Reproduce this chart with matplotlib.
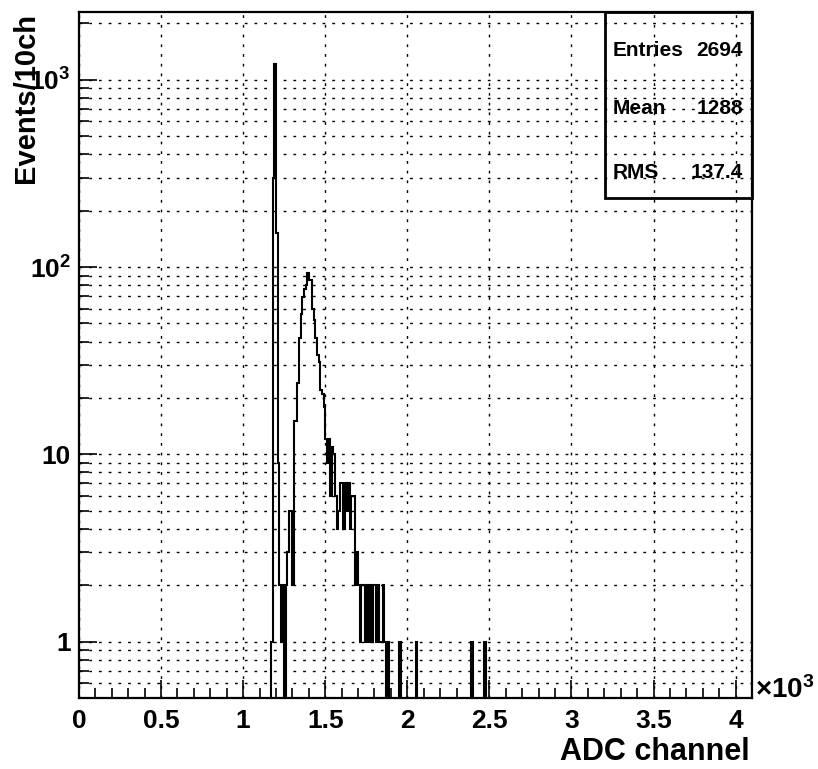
import numpy as np
import matplotlib
matplotlib.use("Agg")
import matplotlib.pyplot as plt
from matplotlib.ticker import FixedLocator, FixedFormatter, NullFormatter
from matplotlib.patches import Rectangle

plt.rcParams['font.family'] = ['Liberation Sans', 'DejaVu Sans']
plt.rcParams['font.weight'] = 'bold'
plt.rcParams['mathtext.fontset'] = 'custom'
plt.rcParams['mathtext.rm'] = 'Liberation Sans:bold'
plt.rcParams['mathtext.bf'] = 'Liberation Sans:bold'
plt.rcParams['mathtext.default'] = 'rm'

# bins with content (lower edge of 10-channel bin, counts); others are empty
channels = [1170, 1180, 1190, 1200, 1210, 1220, 1230, 1240, 1260, 1270,
            1280, 1290, 1300, 1310, 1320, 1330, 1340, 1350, 1360, 1370,
            1380, 1390, 1400, 1410, 1420, 1430, 1440, 1450, 1460, 1470,
            1480, 1490, 1500, 1510, 1520, 1530, 1540, 1550, 1560, 1570,
            1580, 1590, 1600, 1610, 1620, 1630, 1640, 1650, 1660, 1670,
            1680, 1690, 1700, 1710, 1720, 1730, 1740, 1750, 1760, 1770,
            1780, 1790, 1800, 1810, 1820, 1830, 1840, 1850, 1860, 1880,
            1950, 2050, 2390, 2470]
counts = [1, 298, 1210, 152, 9, 2, 1, 2, 2, 3,
          5, 5, 2, 15, 15, 24, 42, 56, 69, 76,
          80, 93, 85, 85, 60, 52, 42, 34, 31, 22,
          21, 18, 12, 9, 12, 6, 11, 10, 6, 4,
          5, 7, 7, 4, 7, 5, 7, 4, 6, 6,
          2, 3, 2, 1, 2, 2, 1, 2, 1, 2,
          1, 2, 2, 1, 2, 1, 1, 2, 1, 1,
          1, 1, 1, 1]

n_entries = "2694"
mean_txt = "1288"
rms_txt = "137.4"

x_ticks = [0, 500, 1000, 1500, 2000, 2500, 3000, 3500, 4000]
x_labels = ["0", "0.5", "1", "1.5", "2", "2.5", "3", "3.5", "4"]
y_ticks = [1, 10, 100, 1000]
y_labels = ["1", "10", r"$10^{2}$", r"$10^{3}$"]

edges = np.arange(0, 4101, 10)
h = np.zeros(len(edges) - 1)
h[np.array(channels) // 10] = counts

W, H = 818, 769
fig = plt.figure(figsize=(W / 100, H / 100), dpi=100)
ax = fig.add_axes([79 / W, 1 - 698 / H, (752 - 79) / W, (698 - 12) / H])

ax.set_yscale('log')
ax.stairs(h, edges, color='k', lw=1.5)

ax.set_xlim(0, 4100)
ax.set_ylim(0.5, 2300)

ax.set_xticks(x_ticks)
ax.set_xticklabels(x_labels)
ax.xaxis.set_minor_locator(FixedLocator(np.arange(0, 4101, 100)))
ax.yaxis.set_major_locator(FixedLocator(y_ticks))
ax.yaxis.set_major_formatter(FixedFormatter(y_labels))
minor_y = [0.6, 0.7, 0.8, 0.9] + [m * d for d in (1, 10, 100) for m in range(2, 10)] + [2000]
ax.yaxis.set_minor_locator(FixedLocator(minor_y))
ax.yaxis.set_minor_formatter(NullFormatter())

ax.tick_params(which='both', direction='in', top=False, right=False, width=1.2, labelsize=19)
ax.tick_params(which='major', length=13)
ax.tick_params(which='minor', length=7)
ax.tick_params(axis='x', pad=8)
ax.tick_params(axis='y', pad=6)

dots = (0, (2, 5))
ax.grid(True, axis='x', which='major', color='k', linestyle=dots, lw=1.0)
ax.grid(True, axis='y', which='both', color='k', linestyle=dots, lw=1.0)

for s in ax.spines.values():
    s.set_linewidth(1.6)

# stats box
bx0 = (605 - 79) / 673
by0 = (698 - 198) / 686
ax.add_patch(Rectangle((bx0, by0), 1 - bx0, 1 - by0, transform=ax.transAxes,
                       fill=False, lw=2, ec='k', clip_on=False, zorder=5))
lx = (613 - 79) / 673
rx = (743 - 79) / 673
for name, val, ypix in [("Entries", n_entries, 50), ("Mean", mean_txt, 108), ("RMS", rms_txt, 172)]:
    yy = (698 - ypix) / 686
    ax.text(lx, yy, name, transform=ax.transAxes, ha='left', va='center', fontsize=15, weight='bold')
    ax.text(rx, yy, val, transform=ax.transAxes, ha='right', va='center', fontsize=15, weight='bold')

fig.text(26 / W, 1 - 13 / H, "Events/10ch", rotation=90, ha='center', va='top', fontsize=21, weight='bold')
fig.text(750 / W, 1 - 752 / H, "ADC channel", ha='right', va='center', fontsize=22, weight='bold')
fig.text(755 / W, 1 - 690 / H, r"$\times10^{3}$", ha='left', va='center', fontsize=20)

fig.savefig("out.png", dpi=100)
